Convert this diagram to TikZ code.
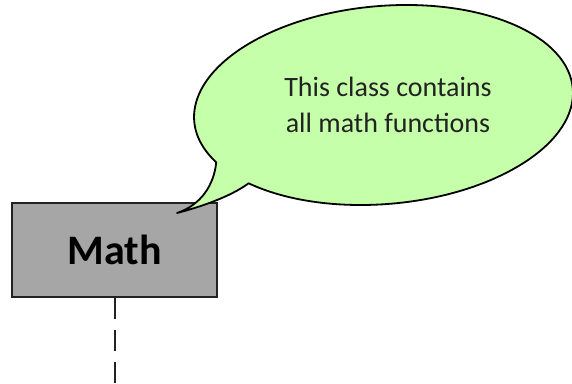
\documentclass[tikz,border=0pt]{standalone}
\usepackage{fontspec}
\setmainfont{Carlito}
\definecolor{bubblegreen}{HTML}{C6FFA9}
\definecolor{boxgray}{HTML}{A6A6A6}
\definecolor{inkdark}{HTML}{222222}
\begin{document}
\begin{tikzpicture}[x=1pt,y=1pt,
  classbox/.style={draw=inkdark,line width=2pt,fill=boxgray,minimum width=205pt,minimum height=94pt,inner sep=0pt,font=\fontsize{42}{48}\selectfont\bfseries,text=black},
  bubble/.style={draw=black,line width=1.8pt,fill=bubblegreen,line join=round},
  lifeline/.style={draw=inkdark,line width=2pt,dash pattern=on 21pt off 11pt},
  notetext/.style={align=center,font=\fontsize{28}{36}\selectfont,text=inkdark,inner sep=0pt}]
\useasboundingbox (0,0) rectangle (572,383);
\node[classbox] (math) at (114.5,133) {Math};
\coordinate (lifeend) at (114.5,0);
\draw[lifeline] (math.south) -- (lifeend);
\coordinate (tip) at (177,170);
\coordinate (c1) at (214,198);
\coordinate (c2) at (201,178);
\coordinate (c3) at (200,176);
\coordinate (c4) at (230,186);
\begin{scope}[shift={(383.5,278)},rotate=5]
\draw[bubble] (222:190pt and 99pt) arc[start angle=222,end angle=565.4,x radius=190pt,y radius=99pt]
  .. controls (c1) and (c2) .. (tip)
  .. controls (c3) and (c4) .. cycle;
\end{scope}
\node[notetext] (note) at (388,278) {This class contains\\all math functions};
\end{tikzpicture}
\end{document}
